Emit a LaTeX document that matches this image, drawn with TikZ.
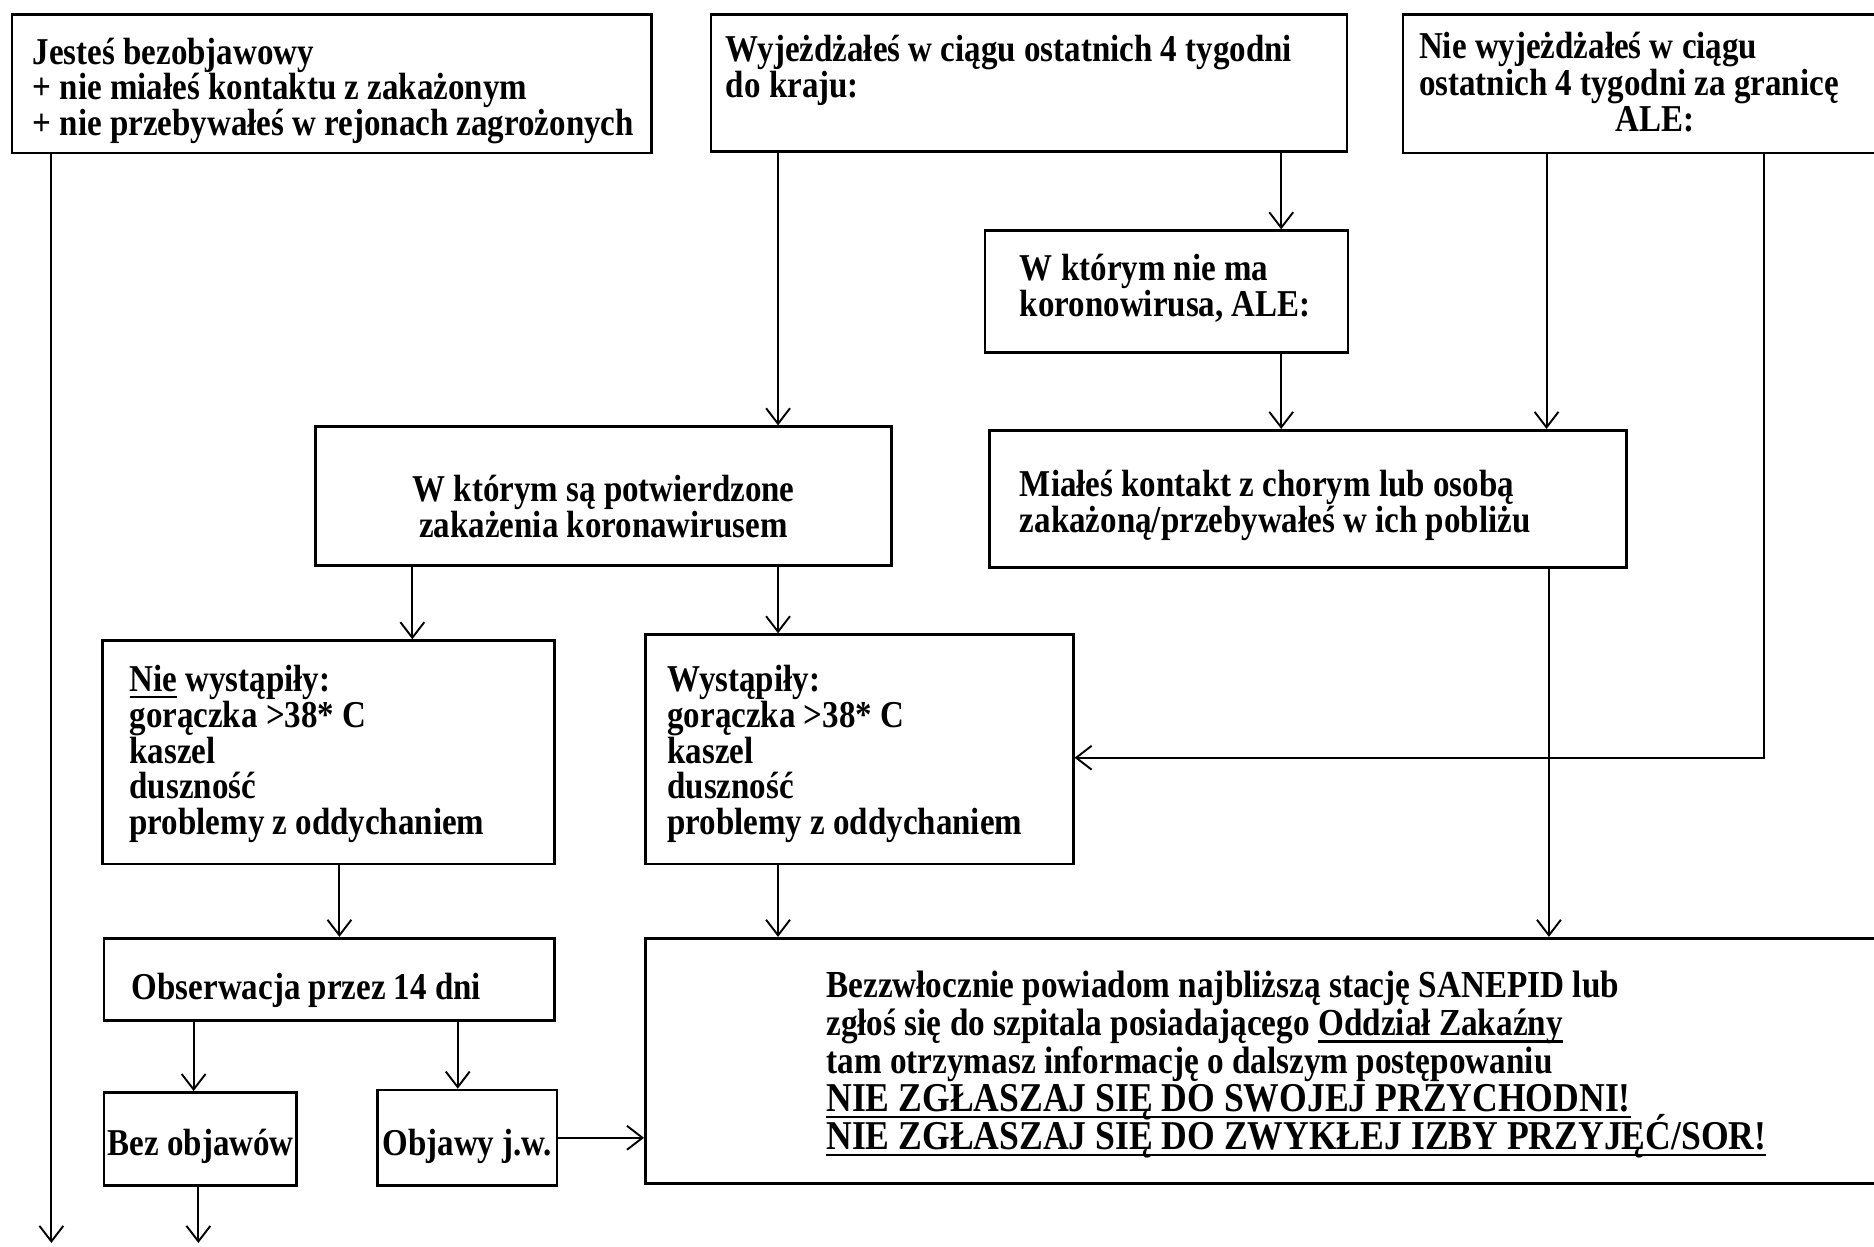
\documentclass[tikz,border=0pt]{standalone}
\usepackage{fontspec}
\setmainfont{Liberation Serif}
\usetikzlibrary{arrows.meta,fit}
\newcommand\ulin[1]{\setbox0=\hbox{#1}\rlap{\rule[-2.4pt]{\wd0}{1pt}}\box0\relax}
\newcommand\capsline[1]{{\fontsize{14.9}{13.8}\selectfont\ulin{#1}}}
\newcommand\Lfont{\bfseries\fontsize{13.9}{13.8}\selectfont\lineskiplimit=-30pt\relax}
\begin{document}
\begin{tikzpicture}[x=0.5pt,y=-0.5pt,
  box/.style={draw, line width=1.1pt, inner sep=0pt},
  txt/.style={font=\bfseries\fontsize{13.8}{13}\selectfont, align=left, inner sep=0pt, anchor=west, yscale=1.15, transform shape},
  ctxt/.style={txt, align=center, anchor=center},
  arr/.style={line width=0.8pt, -{Straight Barb[length=6.5pt,width=10pt]}}]
\useasboundingbox (0,0) rectangle (1568,1043);
\clip (0,0) rectangle (1568,1043);
% boxes
\node[box, fit={(10,12) (545,128)}] (A) {};
\node[box, fit={(595,12) (1127,127)}] (B) {};
\node[box, fit={(1174,12) (1600,128)}] (C) {};
\node[box, fit={(824,193) (1128,295)}] (D) {};
\node[box, fit={(264,357) (746,473)}] (E) {};
\node[box, fit={(828,360) (1361,475)}] (F) {};
\node[box, fit={(86,536) (464,723)}] (G) {};
\node[box, fit={(540,531) (898,723)}] (H) {};
\node[box, fit={(87,785) (464,854)}] (I) {};
\node[box, fit={(87,914) (248,992)}] (J) {};
\node[box, fit={(316,912) (466,992)}] (K) {};
\node[box, fit={(540,785) (1600,990)}] (L) {};
% texts
\node[txt] (At) at (27,76) {Jesteś bezobjawowy\\+ nie miałeś kontaktu z zakażonym\\+ nie przebywałeś w rejonach zagrożonych};
\node[txt] (Bt) at (607,59) {Wyjeżdżałeś w ciągu ostatnich 4 tygodni\\do kraju:};
\node[txt] (Ct) at (1187,73) {\begin{tabular}{@{}l@{}}Nie wyjeżdżałeś w ciągu\\ostatnich 4 tygodni za granicę\\\multicolumn{1}{@{\hspace{22pt}}c@{}}{ALE:}\end{tabular}};
\node[txt] (Dt) at (853,241) {W którym nie ma\\koronowirusa, ALE:};
\node[ctxt] (Et) at (505,424) {W którym są potwierdzone\\zakażenia koronawirusem};
\node[txt] (Ft) at (853,423) {Miałeś kontakt z chorym lub osobą\\zakażoną/przebywałeś w ich pobliżu};
\node[txt] (Gt) at (108,631) {\ulin{Nie} wystąpiły:\\gorączka >38* C\\kaszel\\duszność\\problemy z oddychaniem};
\node[txt] (Ht) at (558,631) {Wystąpiły:\\gorączka >38* C\\kaszel\\duszność\\problemy z oddychaniem};
\node[txt] (It) at (110,829) {Obserwacja przez 14 dni};
\node[ctxt] (Jt) at (168,959) {Bez objawów};
\node[ctxt] (Kt) at (391,959) {Objawy j.w.};
\node[txt, font=\Lfont] (Lt) at (691,891) {Bezzwłocznie powiadom najbliższą stację SANEPID lub\\zgłoś się do szpitala posiadającego \ulin{Oddział Zakaźny}\\tam otrzymasz informację o dalszym postępowaniu\\\capsline{NIE ZGŁASZAJ SIĘ DO SWOJEJ PRZYCHODNI!}\\\capsline{NIE ZGŁASZAJ SIĘ DO ZWYKŁEJ IZBY PRZYJĘĆ/SOR!}};
% free ends
\coordinate (Aend) at (43,1040);
\coordinate (Jend) at (166,1040);
% connectors
\draw[arr] (43,0 |- A.south) -- (Aend);
\draw[arr] (166,0 |- J.south) -- (Jend);
\draw[arr] (651,0 |- B.south) -- (651,0 |- E.north);
\draw[arr] (1072,0 |- B.south) -- (1072,0 |- D.north);
\draw[arr] (1072,0 |- D.south) -- (1072,0 |- F.north);
\draw[arr] (1294,0 |- C.south) -- (1294,0 |- F.north);
\draw[arr] (1476,0 |- C.south) |- (H.east |- 0,634);
\draw[arr] (1296,0 |- F.south) -- (1296,0 |- L.north);
\draw[arr] (345,0 |- E.south) -- (345,0 |- G.north);
\draw[arr] (651,0 |- E.south) -- (651,0 |- H.north);
\draw[arr] (284,0 |- G.south) -- (284,0 |- I.north);
\draw[arr] (651,0 |- H.south) -- (651,0 |- L.north);
\draw[arr] (162,0 |- I.south) -- (162,0 |- J.north);
\draw[arr] (383,0 |- I.south) -- (383,0 |- K.north);
\draw[arr] (K.east) -- (L.west |- K.east);
\end{tikzpicture}
\end{document}
